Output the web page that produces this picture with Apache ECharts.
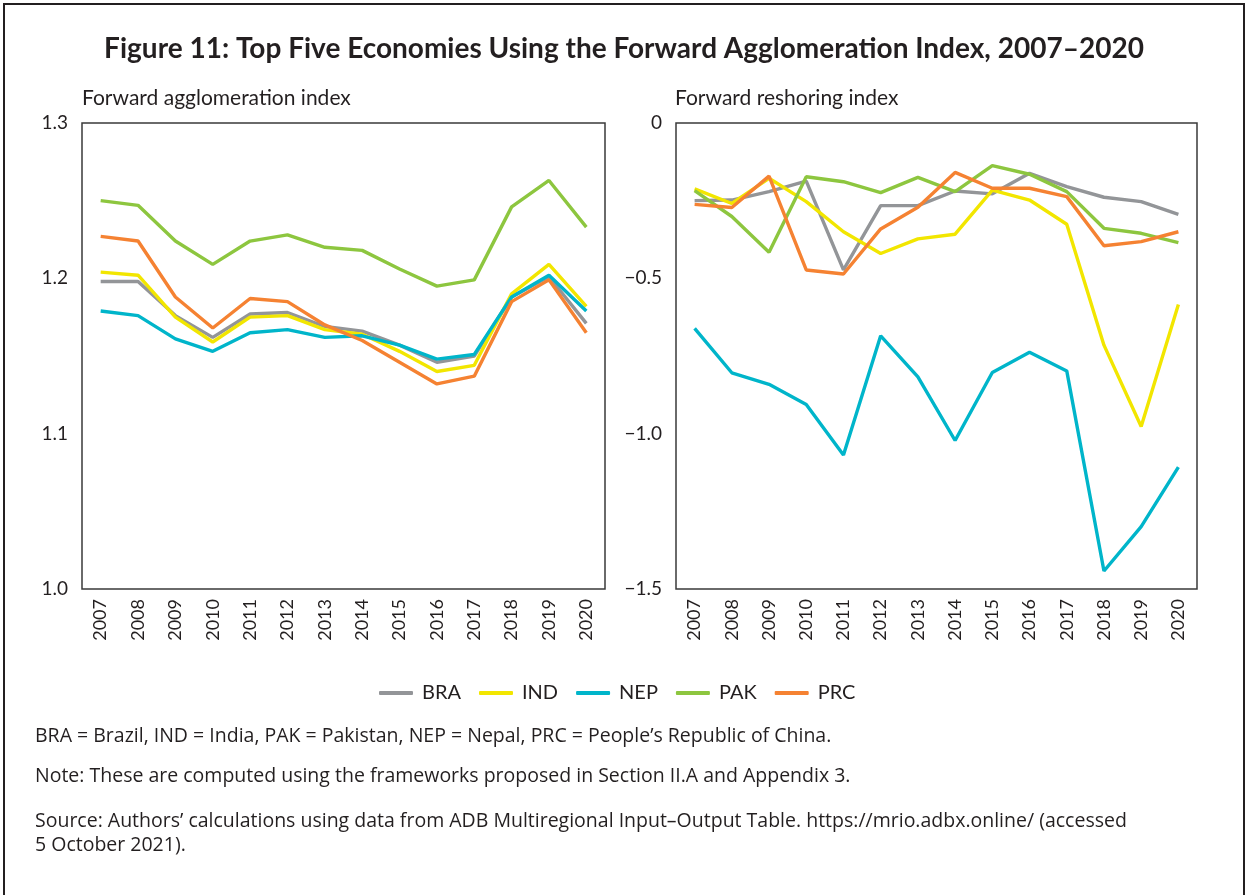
<!DOCTYPE html>
<html>
<head>
<meta charset="utf-8">
<script src="https://cdn.jsdelivr.net/npm/echarts@6/dist/echarts.min.js"></script>
<style>
  html, body { margin: 0; padding: 0; background: #fff; }
  #frame { position: absolute; left: 3px; top: 3px; width: 1238px; height: 1000px; border: 2px solid #231f20; }
  #chart { position: absolute; left: 0; top: 0; width: 1248px; height: 895px; }
</style>
</head>
<body>
<div id="frame"></div>
<div id="chart"></div>
<script>
// Years on both panels
const years = ['2007','2008','2009','2010','2011','2012','2013','2014','2015','2016','2017','2018','2019','2020'];

// Forward agglomeration index
const aggBRA = [1.198, 1.198, 1.176, 1.162, 1.177, 1.178, 1.169, 1.166, 1.157, 1.146, 1.150, 1.188, 1.201, 1.171];
const aggIND = [1.204, 1.202, 1.175, 1.159, 1.175, 1.176, 1.167, 1.164, 1.153, 1.140, 1.144, 1.190, 1.209, 1.182];
const aggNEP = [1.179, 1.176, 1.161, 1.153, 1.165, 1.167, 1.162, 1.163, 1.157, 1.148, 1.151, 1.188, 1.202, 1.179];
const aggPAK = [1.250, 1.247, 1.224, 1.209, 1.224, 1.228, 1.220, 1.218, 1.206, 1.195, 1.199, 1.246, 1.263, 1.233];
const aggPRC = [1.227, 1.224, 1.188, 1.168, 1.187, 1.185, 1.170, 1.160, 1.146, 1.132, 1.137, 1.185, 1.199, 1.165];

// Forward reshoring index
const resBRA = [-0.250, -0.248, -0.221, -0.187, -0.473, -0.266, -0.266, -0.219, -0.228, -0.162, -0.205, -0.239, -0.253, -0.294];
const resIND = [-0.212, -0.259, -0.178, -0.253, -0.350, -0.420, -0.373, -0.358, -0.216, -0.248, -0.326, -0.715, -0.977, -0.584];
const resNEP = [-0.661, -0.804, -0.841, -0.906, -1.069, -0.685, -0.817, -1.022, -0.803, -0.738, -0.798, -1.442, -1.299, -1.108];
const resPAK = [-0.218, -0.301, -0.416, -0.173, -0.189, -0.224, -0.175, -0.221, -0.137, -0.165, -0.221, -0.339, -0.355, -0.385];
const resPRC = [-0.262, -0.272, -0.171, -0.473, -0.486, -0.341, -0.271, -0.159, -0.210, -0.210, -0.237, -0.395, -0.382, -0.350];

const names = ['BRA', 'IND', 'NEP', 'PAK', 'PRC'];
const colors = { BRA: '#939598', IND: '#F2E600', NEP: '#00B5CA', PAK: '#8DC63F', PRC: '#F58232' };
const aggData = { BRA: aggBRA, IND: aggIND, NEP: aggNEP, PAK: aggPAK, PRC: aggPRC };
const resData = { BRA: resBRA, IND: resIND, NEP: resNEP, PAK: resPAK, PRC: resPRC };

const FONT = 'Lato';
const NOTE_FONT = '"Open Sans"';
const TXT = '#231f20';

function xAxisFor(gridIndex) {
  return {
    type: 'category', gridIndex, data: years, boundaryGap: true,
    axisLine: { show: false }, axisTick: { show: false },
    axisLabel: { rotate: 90, fontFamily: FONT, fontSize: 18, color: TXT, margin: 10 }
  };
}

function minusFmt(v) {
  if (v === 0) return '0';
  return (v < 0 ? '\u2212' : '') + Math.abs(v).toFixed(1);
}

function lineSeries(name, data, xi, yi) {
  return {
    name, type: 'line', data, xAxisIndex: xi, yAxisIndex: yi,
    symbol: 'none', smooth: false,
    lineStyle: { width: 3.4, color: colors[name] },
    itemStyle: { color: colors[name] },
    emphasis: { disabled: true }
  };
}

const series = [];
names.forEach(n => series.push(lineSeries(n, aggData[n], 0, 0)));
names.forEach(n => series.push(lineSeries(n, resData[n], 1, 1)));

const chart = echarts.init(document.getElementById('chart'), null, { renderer: 'canvas' });
chart.setOption({
  animation: false,
  backgroundColor: 'transparent',
  title: {
    text: 'Figure 11: Top Five Economies Using the Forward Agglomeration Index, 2007\u20132020',
    left: 'center', top: 30,
    textStyle: { fontFamily: FONT, fontSize: 28, fontWeight: 'bold', color: TXT }
  },
  grid: [
    { left: 82, top: 123, width: 523, height: 466, show: true, borderColor: '#3a3a3a', borderWidth: 1.5, backgroundColor: 'transparent' },
    { left: 676, top: 123, width: 521, height: 466, show: true, borderColor: '#3a3a3a', borderWidth: 1.5, backgroundColor: 'transparent' }
  ],
  xAxis: [xAxisFor(0), xAxisFor(1)],
  yAxis: [
    {
      type: 'value', gridIndex: 0, min: 1.0, max: 1.3, interval: 0.1,
      axisLine: { show: false }, axisTick: { show: false }, splitLine: { show: false },
      axisLabel: { fontFamily: FONT, fontSize: 19, color: TXT, margin: 14, formatter: v => v.toFixed(1) }
    },
    {
      type: 'value', gridIndex: 1, min: -1.5, max: 0, interval: 0.5,
      axisLine: { show: false }, axisTick: { show: false }, splitLine: { show: false },
      axisLabel: { fontFamily: FONT, fontSize: 19, color: TXT, margin: 14, formatter: minusFmt }
    }
  ],
  legend: {
    data: names, left: 374, top: 678, itemWidth: 34, itemHeight: 4, itemGap: 18,
    icon: 'roundRect',
    textStyle: { fontFamily: FONT, fontSize: 20, color: TXT, padding: [0, 0, 0, 4] }
  },
  series,
  graphic: [
    { type: 'text', left: 82, top: 88, style: { text: 'Forward agglomeration index', font: '21px Lato', fill: TXT } },
    { type: 'text', left: 675, top: 88, style: { text: 'Forward reshoring index', font: '21px Lato', fill: TXT } },
    { type: 'text', left: 35, top: 726, style: { text: 'BRA = Brazil, IND = India, PAK = Pakistan, NEP = Nepal, PRC = People\u2019s Republic of China.', font: '19.5px ' + NOTE_FONT, fill: TXT } },
    { type: 'text', left: 35, top: 766, style: { text: 'Note: These are computed using the frameworks proposed in Section II.A and Appendix 3.', font: '19.5px ' + NOTE_FONT, fill: TXT } },
    { type: 'text', left: 35, top: 811, style: { text: 'Source: Authors\u2019 calculations using data from ADB Multiregional Input\u2013Output Table. https://mrio.adbx.online/ (accessed', font: '19.5px ' + NOTE_FONT, fill: TXT } },
    { type: 'text', left: 35, top: 835, style: { text: '5 October 2021).', font: '19.5px ' + NOTE_FONT, fill: TXT } }
  ]
});
</script>
</body>
</html>
